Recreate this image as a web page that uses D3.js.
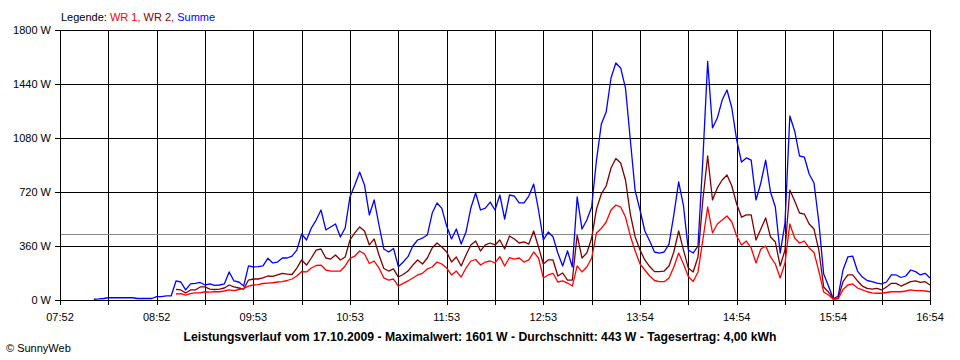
<!DOCTYPE html>
<html><head><meta charset="utf-8">
<script src="https://cdn.jsdelivr.net/npm/d3@7"></script>
<style>
body{margin:0;background:#fff;}
svg{display:block;font-family:"Liberation Sans",Arial,sans-serif;}
</style></head>
<body><svg id="chart" width="960" height="360"></svg>
<script>
// minutes after 07:52
const minutes = [21,24,27,30,33,36,39,42,45,48,51,54,57,60,63,66,69,
72,75,78,81,84,87,90,93,96,99,102,105,108,111,114,117,120,123,126,129,132,135,138,141,144,147,150,
153,156,159,162,165,168,171,174,177,180,183,186,189,192,195,198,201,204,207,210,213,216,219,222,225,
228,231,234,237,240,243,246,249,252,255,258,261,264,267,270,273,276,279,282,285,288,291,294,297,300,
303,306,309,312,315,318,321,324,327,330,333,336,339,342,345,348,351,354,357,360,363,366,369,372,375,
378,381,384,387,390,393,396,399,402,405,408,411,414,417,420,423,426,429,432,435,438,441,444,447,450,
453,456,459,462,465,468,471,474,477,480,483,486,489,492,495,498,501,504,507,510,513,516,519,522,525,
528,531,534,537,540];
const summe = [5,7,10,15,15,15,15,15,15,10,10,10,10,23,23,27,27,
127,120,67,107,111,117,100,107,97,100,107,187,127,120,93,227,220,222,227,278,247,253,280,280,293,333,440,
400,480,533,600,467,487,507,420,480,689,767,853,767,567,667,500,340,320,344,222,253,289,360,400,413,
433,578,647,611,493,407,473,373,453,613,713,600,613,653,600,700,540,700,693,647,647,693,773,600,400,
453,422,313,227,327,220,687,473,533,620,933,1173,1253,1480,1580,1547,1413,1067,727,600,460,393,320,313,320,
373,567,787,627,333,313,360,933,1590,1147,1213,1333,1400,1280,1067,920,947,933,667,780,933,720,620,313,513,
1227,1127,960,953,840,780,520,173,93,7,27,200,287,293,193,153,130,123,113,107,120,167,167,150,160,
200,189,167,178,147];
const wr2 = [null,null,null,null,null,null,null,null,null,null,null,null,null,null,null,null,null,
71,67,47,67,67,87,87,73,70,73,80,100,87,80,73,133,140,140,147,160,157,167,177,173,170,213,267,
233,280,333,340,280,273,300,267,287,400,447,487,460,367,407,300,210,193,207,153,170,193,233,267,240,
280,347,380,353,320,253,287,227,300,367,393,327,367,380,367,400,340,427,407,380,387,373,460,353,240,
267,267,160,180,133,133,433,280,313,413,607,707,760,880,943,913,800,573,420,333,267,223,189,189,193,
227,320,460,333,213,187,287,667,960,667,747,800,833,760,640,553,567,567,400,473,547,420,387,227,333,
733,660,580,573,507,473,333,87,53,11,13,122,167,167,127,93,77,73,77,67,87,111,111,93,107,
123,127,117,122,100];
const wr1 = [null,null,null,null,null,null,null,null,null,null,null,null,null,null,null,null,null,
40,43,33,43,47,47,55,53,55,55,60,67,63,70,77,93,100,103,110,113,115,120,123,130,140,160,190,
187,213,230,233,200,193,193,193,227,278,293,327,307,243,260,213,147,133,140,93,111,127,147,167,178,
207,220,253,240,213,167,193,153,213,260,270,233,253,260,247,289,227,283,273,280,253,267,320,280,147,
167,178,120,127,113,93,227,187,220,280,447,477,520,600,633,620,553,427,327,240,200,160,130,122,122,
147,220,313,240,157,123,187,400,620,447,507,533,560,520,427,367,393,347,247,340,360,287,240,147,247,
507,413,380,393,347,317,193,53,33,5,7,70,100,107,80,67,55,47,45,45,50,55,55,55,60,
67,63,62,60,55];
const timeLabels = ["07:52","08:52","09:53","10:53","11:53","12:53","13:54","14:54","15:54","16:54"];
const yTickValues = [0,360,720,1080,1440,1800];
const average = 443;
const legendItems = [{t:"Legende: ",c:"#000"},{t:"WR 1, ",c:"#ff0000"},{t:"WR 2, ",c:"#800000"},{t:"Summe",c:"#0000ff"}];
const titleText = "Leistungsverlauf vom 17.10.2009 - Maximalwert: 1601 W - Durchschnitt: 443 W - Tagesertrag: 4,00 kWh";

const svg = d3.select("#chart");
const x = d3.scaleLinear().domain([0,540]).range([60,930]);
const y = d3.scaleLinear().domain([0,1800]).range([300,30]);
const px = v => Math.round(v)+0.5;

svg.append("rect").attr("width",960).attr("height",360).attr("fill","#fff");

// grid
const g = svg.append("g").attr("stroke","#000").attr("stroke-width",1).attr("shape-rendering","crispEdges");
g.selectAll("line.v").data(d3.range(0,541,30)).join("line")
  .attr("x1",d=>px(x(d))).attr("x2",d=>px(x(d))).attr("y1",30).attr("y2",305);
g.selectAll("line.h").data(yTickValues).join("line")
  .attr("x1",55).attr("x2",px(930)).attr("y1",d=>px(y(d))).attr("y2",d=>px(y(d)));

// average line
svg.append("line").attr("x1",61).attr("x2",930).attr("y1",px(y(average))).attr("y2",px(y(average)))
  .attr("stroke","#8a8a8a").attr("stroke-width",1).attr("shape-rendering","crispEdges");

// series
const series = [{v:summe,c:"#0000ff"},{v:wr2,c:"#800000"},{v:wr1,c:"#ff0000"}];
series.forEach(s=>{
  const line = d3.line().defined(d=>d[1]!=null).x(d=>x(d[0])).y(d=>y(d[1]));
  svg.append("path").datum(minutes.map((m,i)=>[m,s.v[i]]))
    .attr("d",line).attr("fill","none").attr("stroke",s.c).attr("stroke-width",1.3)
    .attr("stroke-linejoin","round");
});

// y labels
svg.selectAll("text.yl").data(yTickValues).join("text")
  .attr("x",51).attr("y",d=>y(d)+4).attr("text-anchor","end")
  .attr("font-size",11).attr("fill","#000").text(d=>d+" W");

// x labels
svg.selectAll("text.xl").data(timeLabels).join("text")
  .attr("x",(d,i)=>x(i*60)).attr("y",321).attr("text-anchor","middle")
  .attr("font-size",11).attr("fill","#000").text(d=>d);

// legend
const lg = svg.append("text").attr("x",61).attr("y",21).attr("font-size",11);
legendItems.forEach(it=>lg.append("tspan").attr("fill",it.c).style("white-space","pre").text(it.t));

// title
svg.append("text").attr("x",480).attr("y",341).attr("text-anchor","middle")
  .attr("font-size",12).attr("font-weight","bold").attr("fill","#000")
  .attr("textLength",593).attr("lengthAdjust","spacingAndGlyphs").text(titleText);

// copyright
svg.append("text").attr("x",6).attr("y",352).attr("font-size",11).attr("fill","#000").text("\u00A9 SunnyWeb");
</script></body></html>
